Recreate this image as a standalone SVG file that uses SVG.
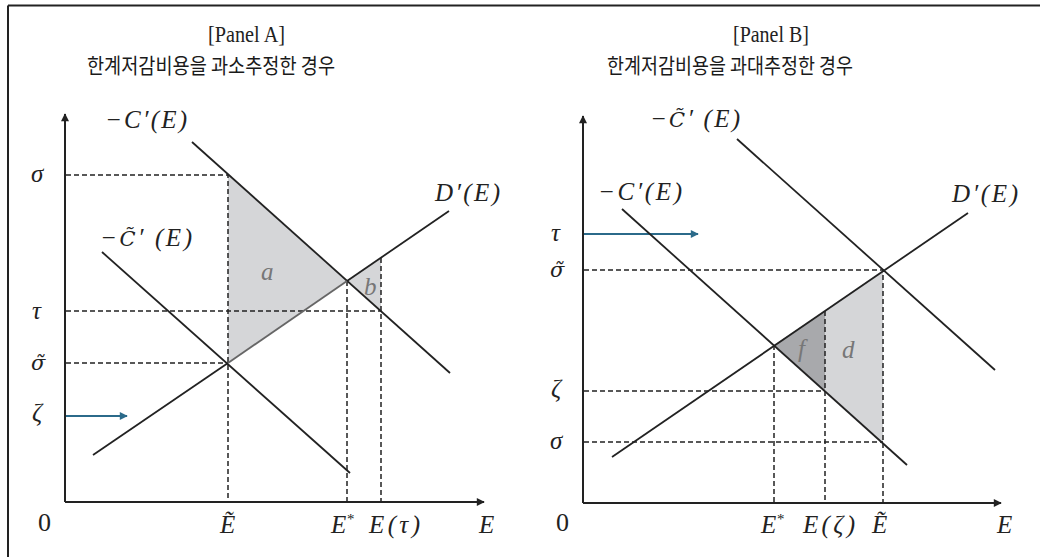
<svg xmlns="http://www.w3.org/2000/svg" width="1040" height="557" viewBox="0 0 1040 557">
<defs>
<marker id="ah" viewBox="0 0 10 10" refX="9" refY="5" markerWidth="9" markerHeight="8" markerUnits="userSpaceOnUse" orient="auto"><path d="M0,0 L10,5 L0,10 z" fill="#222"/></marker>
<marker id="ahb" viewBox="0 0 10 10" refX="9" refY="5" markerWidth="10" markerHeight="8" markerUnits="userSpaceOnUse" orient="auto"><path d="M0,0 L10,5 L0,10 z" fill="#2b6a8a"/></marker>
<style>
.ax{stroke:#222;stroke-width:2;fill:none}
.ln{stroke:#222;stroke-width:1.8;fill:none}
.dl{stroke:#222;stroke-width:1.5;stroke-dasharray:5,3;fill:none}
.bl{stroke:#2b6a8a;stroke-width:2.2;fill:none}
.m{font-family:"Liberation Serif",serif;font-style:italic;font-size:25px;fill:#222}
.d{font-family:"DejaVu Serif",serif;font-style:italic;font-size:21px;fill:#222}
.n{font-family:"Liberation Serif",serif;font-size:26px;fill:#222}
.t{font-family:"Liberation Serif",serif;font-size:23px;fill:#222}
.k{font-family:"Noto Sans CJK KR",sans-serif;font-size:21px;fill:#1a1a1a}
.sh{fill:#d5d6d8}
.sd{fill:#a8a9ac}
.g{font-family:"Liberation Serif",serif;font-style:italic;font-size:25px;fill:#777}
</style>
</defs>
<g id="frame"><path d="M8,5.5 H1040 M8,5.5 V557" stroke="#222" stroke-width="2" fill="none"/></g>

<g id="panelA">
<g id="titleA"><text class="t" x="208" y="42" textLength="77" lengthAdjust="spacingAndGlyphs">[Panel  A]</text><text class="k" x="87" y="73" textLength="248" lengthAdjust="spacingAndGlyphs">한계저감비용을 과소추정한 경우</text></g>
<g id="shadeA"><polygon class="sh" points="228,175 347,281 228,363"/><polygon class="sh" points="347,281 381,258 381,311"/></g>
<g id="axesA"><line class="ax" x1="65" y1="502" x2="65" y2="114" marker-end="url(#ah)"/><line class="ax" x1="65" y1="502" x2="484" y2="502" marker-end="url(#ah)"/></g>
<g id="connectorsA">
<path class="dl" d="M66,175 H228 V502 M66,311 H381 M66,363 H228 M347,281 V502 M381,258 V502"/>
<line class="bl" x1="66" y1="416" x2="127" y2="416" marker-end="url(#ahb)"/>
<line class="ln" x1="192" y1="142" x2="450" y2="373"/>
<line class="ln" x1="102" y1="252" x2="350" y2="473"/>
<line class="ln" x1="93" y1="455" x2="228" y2="363"/>
<line x1="228" y1="363" x2="347" y2="281" stroke="#666" stroke-width="1.8"/>
<line class="ln" x1="347" y1="281" x2="449" y2="211"/>
</g>
<g id="labelsA">
<text class="m" x="105" y="128" textLength="82" lengthAdjust="spacing">−C′(E)</text>
<text class="m" x="100" y="246" textLength="92" lengthAdjust="spacing">−<tspan class="d">C̃</tspan>′ (E)</text>
<text class="m" x="435" y="201" textLength="65" lengthAdjust="spacing">D′(E)</text>
<text class="m" x="31" y="182">σ</text>
<text class="m" x="32" y="319">τ</text>
<text class="d" x="31" y="370">σ̃</text>
<text class="m" x="32" y="421">ζ</text>
<text class="n" x="38" y="531">0</text>
<text class="m" x="220" y="533">Ẽ</text>
<text class="m" x="331" y="533">E<tspan dy="-9" font-size="15">*</tspan></text>
<text class="m" x="369" y="533" textLength="51" lengthAdjust="spacing">E(τ)</text>
<text class="m" x="479" y="533">E</text>
<text class="g" x="261" y="280">a</text>
<text class="g" x="364" y="295">b</text>
</g>
</g>

<g id="panelB">
<g id="titleB"><text class="t" x="733" y="42" textLength="76" lengthAdjust="spacingAndGlyphs">[Panel  B]</text><text class="k" x="607" y="73" textLength="246" lengthAdjust="spacingAndGlyphs">한계저감비용을 과대추정한 경우</text></g>
<g id="shadeB"><polygon class="sd" points="774,345 825,311 825,391"/><polygon class="sh" points="825,311 883,270 883,443 825,391"/></g>
<g id="axesB"><line class="ax" x1="583" y1="503" x2="583" y2="116" marker-end="url(#ah)"/><line class="ax" x1="583" y1="503" x2="1001" y2="503" marker-end="url(#ah)"/></g>
<g id="connectorsB">
<path class="dl" d="M584,270 H883 V503 M584,391 H825 M584,442 H883 M774,345 V503 M825,311 V503"/>
<line class="bl" x1="584" y1="234" x2="698" y2="234" marker-end="url(#ahb)"/>
<line class="ln" x1="737" y1="139" x2="995" y2="370"/>
<line class="ln" x1="622" y1="209" x2="907" y2="465"/>
<line class="ln" x1="612" y1="457" x2="968" y2="213"/>
</g>
<g id="labelsB">
<text class="m" x="650" y="127" textLength="90" lengthAdjust="spacing">−<tspan class="d">C̃</tspan>′ (E)</text>
<text class="m" x="598" y="200" textLength="84" lengthAdjust="spacing">−C′(E)</text>
<text class="m" x="952" y="202" textLength="66" lengthAdjust="spacing">D′(E)</text>
<text class="m" x="551" y="241">τ</text>
<text class="d" x="550" y="277">σ̃</text>
<text class="m" x="551" y="397">ζ</text>
<text class="m" x="550" y="449">σ</text>
<text class="n" x="556" y="531">0</text>
<text class="m" x="761" y="533">E<tspan dy="-9" font-size="15">*</tspan></text>
<text class="m" x="803" y="533" textLength="52" lengthAdjust="spacing">E(ζ)</text>
<text class="m" x="872" y="533">Ẽ</text>
<text class="m" x="997" y="533">E</text>
<text class="g" x="798" y="357">f</text>
<text class="g" x="842" y="358">d</text>
</g>
</g>
</svg>
